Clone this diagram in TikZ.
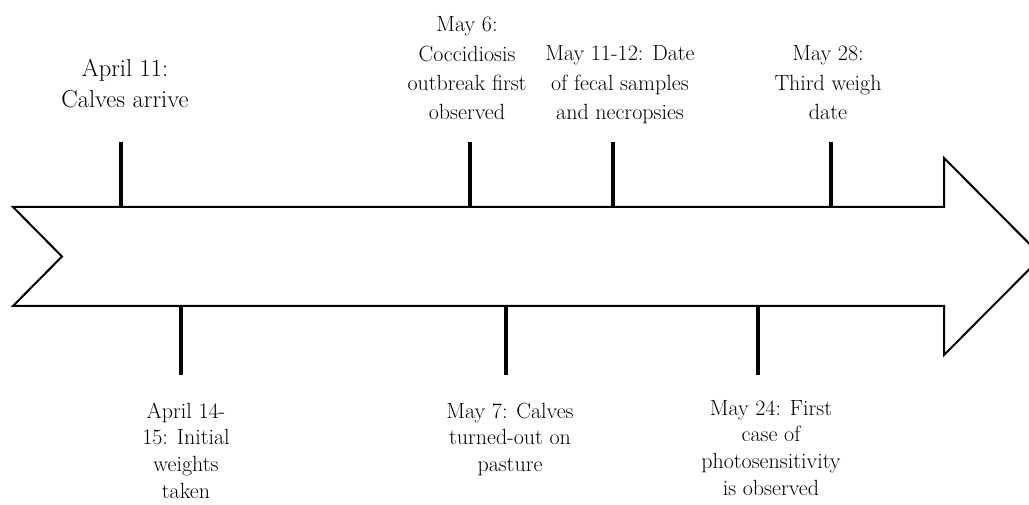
\documentclass[tikz,border=0pt]{standalone}
\usepackage{tikz}
\begin{document}
\begin{tikzpicture}[x=1pt,y=-1pt,
  lbltop/.style={inner sep=0pt, anchor=base, font=\fontsize{22}{29.3}\selectfont},
  lblbig/.style={inner sep=0pt, anchor=base, font=\fontsize{24.5}{31}\selectfont},
  lblbot/.style={inner sep=0pt, anchor=base, font=\fontsize{22}{26.7}\selectfont},
  tickline/.style={line width=3.6pt},
  outline/.style={line width=2pt, miter limit=25, line join=miter}]
\fill[white] (0,0) rectangle (1029,505);
\useasboundingbox (0,0) rectangle (1029,505);
% big arrow
\draw[outline] (13,207) -- (944,207) -- (944,158) -- (1042,256.5) -- (944,355)
  -- (944,306) -- (13,306) -- (62,256.5) -- cycle;
% tick coordinates
\coordinate (a1) at (121,142); \coordinate (b1) at (121,207);
\coordinate (a2) at (470,142); \coordinate (b2) at (470,207);
\coordinate (a3) at (613,142); \coordinate (b3) at (613,207);
\coordinate (a4) at (831,142); \coordinate (b4) at (831,207);
\coordinate (c1) at (181,306); \coordinate (d1) at (181,375);
\coordinate (c2) at (506,306); \coordinate (d2) at (506,375);
\coordinate (c3) at (758,306); \coordinate (d3) at (758,375);
\draw[tickline] (a1) -- (b1);
\draw[tickline] (a2) -- (b2);
\draw[tickline] (a3) -- (b3);
\draw[tickline] (a4) -- (b4);
\draw[tickline] (c1) -- (d1);
\draw[tickline] (c2) -- (d2);
\draw[tickline] (c3) -- (d3);
% labels above
\node[lblbig] (apr11) at (125,77) {\begin{tabular}[t]{@{}c@{}}April 11:\\Calves arrive\end{tabular}};
\node[lbltop] (may6) at (467,32) {\begin{tabular}[t]{@{}c@{}}May 6:\\Coccidiosis\\outbreak first\\observed\end{tabular}};
\node[lbltop] (may11) at (620,61) {\begin{tabular}[t]{@{}c@{}}May 11-12: Date\\of fecal samples\\and necropsies\end{tabular}};
\node[lbltop] (may28) at (828,61) {\begin{tabular}[t]{@{}c@{}}May 28:\\Third weigh\\date\end{tabular}};
% labels below
\node[lblbot] (apr14) at (186,418) {\begin{tabular}[t]{@{}c@{}}April 14-\\15: Initial\\weights\\taken\end{tabular}};
\node[lblbot] (may7) at (510,418) {\begin{tabular}[t]{@{}c@{}}May 7: Calves\\turned-out on\\pasture\end{tabular}};
\node[lblbot] (may24) at (771,415) {\begin{tabular}[t]{@{}c@{}}May 24: First\\case of\\photosensitivity\\is observed\end{tabular}};
\end{tikzpicture}
\end{document}
